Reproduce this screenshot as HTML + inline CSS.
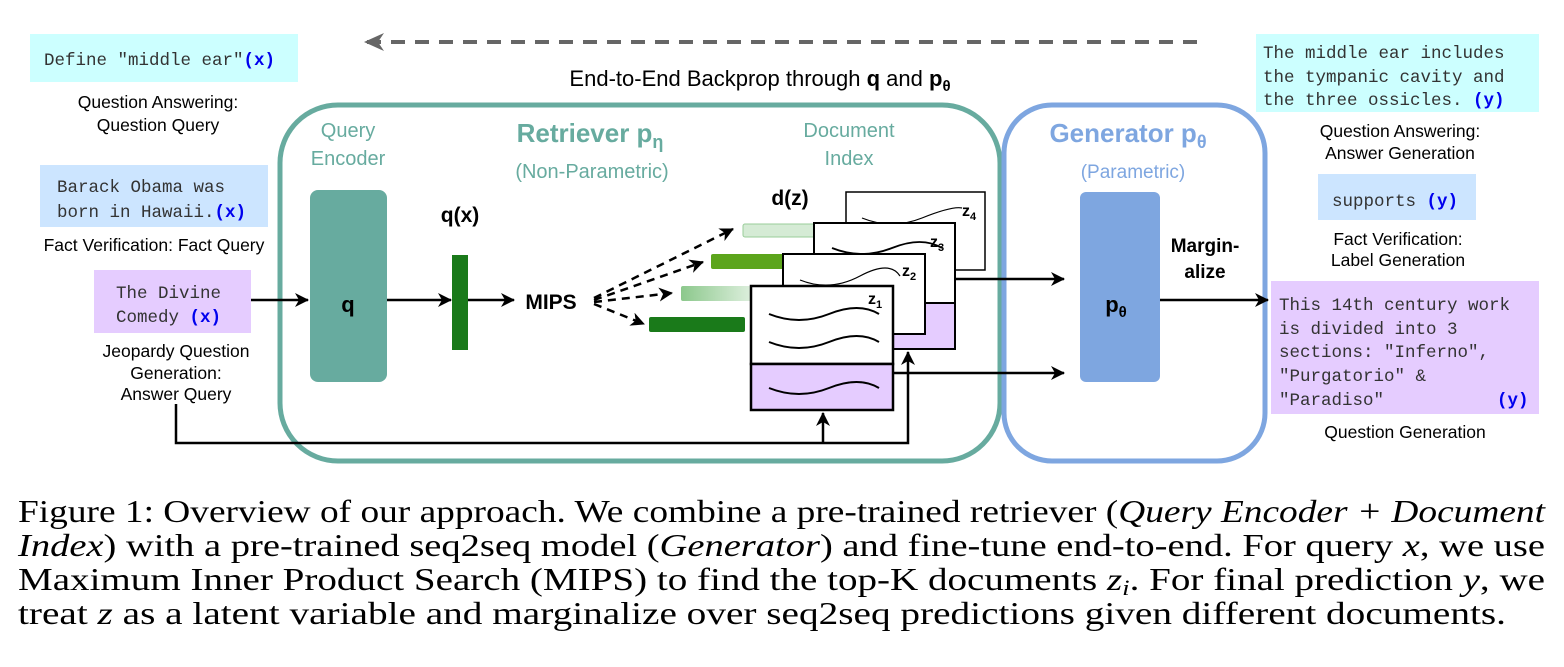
<!DOCTYPE html>
<html><head><meta charset="utf-8"><style>
html,body{margin:0;padding:0;background:#fff;}
svg{display:block}
.m{font-family:"Liberation Mono",monospace;font-size:17.5px;fill:#333}
.b{font-family:"Liberation Mono",monospace;font-size:17.5px;fill:#0000ee;font-weight:bold}
.s{font-family:"Liberation Sans",sans-serif;font-size:17.5px;fill:#000}
.t{font-family:"Liberation Sans",sans-serif;font-size:20px;fill:#67ab9f}
.cap{font-family:"Liberation Serif",serif;font-size:32px;fill:#000}
</style></head><body>
<svg width="1564" height="667" viewBox="0 0 1564 667" xmlns="http://www.w3.org/2000/svg">
<defs>
<marker id="a2" markerWidth="14" markerHeight="14" refX="13" refY="7" orient="auto" markerUnits="userSpaceOnUse"><path d="M0,0 L14,7 L0,14 L4,7z" fill="#000"/></marker>
<marker id="g" markerWidth="20" markerHeight="20" refX="18" refY="10" orient="auto" markerUnits="userSpaceOnUse"><path d="M0,1 L20,10 L0,19 L6,10z" fill="#666"/></marker>
<linearGradient id="lg" x1="0" x2="1"><stop offset="0" stop-color="#8cc88c"/><stop offset="1" stop-color="#e8f4e8"/></linearGradient>
</defs>
<line x1="1197" y1="42" x2="366" y2="42" stroke="#666" stroke-width="4" stroke-dasharray="14,10" marker-end="url(#g)"/>
<text x="760" y="86" text-anchor="middle" font-family="Liberation Sans,sans-serif" font-size="22">End-to-End Backprop through <tspan font-weight="bold">q</tspan> and <tspan font-weight="bold">p<tspan font-size="15" dy="5">θ</tspan></tspan></text>
<rect x="30" y="34" width="268" height="48" fill="#ccffff"/>
<text x="44" y="65" class="m">Define "middle ear"<tspan class="b">(x)</tspan></text>
<text x="158" y="108" text-anchor="middle" class="s">Question Answering:</text>
<text x="158" y="131" text-anchor="middle" class="s">Question Query</text>
<rect x="40" y="165" width="228" height="62" fill="#cce5ff"/>
<text x="57" y="192" class="m">Barack Obama was</text>
<text x="57" y="217" class="m">born in Hawaii.<tspan class="b">(x)</tspan></text>
<text x="154" y="251" text-anchor="middle" class="s">Fact Verification: Fact Query</text>
<rect x="94" y="270" width="157" height="63" fill="#e5ccff"/>
<text x="116" y="298" class="m">The Divine</text>
<text x="116" y="322" class="m">Comedy <tspan class="b">(x)</tspan></text>
<text x="176" y="357" text-anchor="middle" class="s">Jeopardy Question</text>
<text x="176" y="379" text-anchor="middle" class="s">Generation:</text>
<text x="176" y="400" text-anchor="middle" class="s">Answer Query</text>
<rect x="280" y="105" width="720" height="356" rx="58" fill="none" stroke="#67ab9f" stroke-width="5"/>
<rect x="1004" y="105" width="261" height="356" rx="48" fill="none" stroke="#7ea6e0" stroke-width="5"/>
<text x="348" y="137" text-anchor="middle" class="t">Query</text>
<text x="348" y="165" text-anchor="middle" class="t">Encoder</text>
<text x="590" y="142" text-anchor="middle" font-family="Liberation Sans,sans-serif" font-size="26" font-weight="bold" fill="#67ab9f">Retriever p<tspan font-size="18" dy="6">η</tspan></text>
<text x="592" y="178" text-anchor="middle" class="t" font-size="19">(Non-Parametric)</text>
<text x="849" y="137" text-anchor="middle" class="t">Document</text>
<text x="849" y="165" text-anchor="middle" class="t">Index</text>
<text x="1128" y="142" text-anchor="middle" font-family="Liberation Sans,sans-serif" font-size="26" font-weight="bold" fill="#7ea6e0">Generator p<tspan font-size="18" dy="6">θ</tspan></text>
<text x="1133" y="178" text-anchor="middle" font-family="Liberation Sans,sans-serif" font-size="19" fill="#7ea6e0">(Parametric)</text>
<rect x="310" y="190" width="77" height="192" rx="8" fill="#67ab9f"/>
<text x="348" y="312" text-anchor="middle" font-family="Liberation Sans,sans-serif" font-size="22" font-weight="bold">q</text>
<line x1="251" y1="300" x2="308" y2="300" stroke="#000" stroke-width="2.5" marker-end="url(#a2)"/>
<line x1="387" y1="300" x2="451" y2="300" stroke="#000" stroke-width="2.5" marker-end="url(#a2)"/>
<rect x="452" y="255" width="16" height="95" fill="#1a7a1a"/>
<text x="460" y="222" text-anchor="middle" font-family="Liberation Sans,sans-serif" font-size="21" font-weight="bold">q(x)</text>
<line x1="468" y1="300" x2="514" y2="300" stroke="#000" stroke-width="2.5" marker-end="url(#a2)"/>
<text x="551" y="309" text-anchor="middle" font-family="Liberation Sans,sans-serif" font-size="21" font-weight="bold">MIPS</text>
<g stroke="#000" stroke-width="2.5" stroke-dasharray="8,6" fill="none">
<line x1="594" y1="298" x2="733" y2="229" marker-end="url(#a2)"/>
<line x1="594" y1="300" x2="703" y2="262" marker-end="url(#a2)"/>
<line x1="594" y1="302" x2="672" y2="293" marker-end="url(#a2)"/>
<line x1="594" y1="304" x2="644" y2="324" marker-end="url(#a2)"/>
</g>
<rect x="743" y="224" width="80" height="13" rx="2" fill="#d5ebd5" stroke="#9c9" stroke-width="1"/>
<rect x="711" y="254" width="80" height="15" rx="2" fill="#5ca51c"/>
<rect x="681" y="286" width="80" height="15" rx="2" fill="url(#lg)"/>
<rect x="649" y="317" width="96" height="15" rx="2" fill="#1a7a1a"/>
<text x="790" y="205" text-anchor="middle" font-family="Liberation Sans,sans-serif" font-size="21" font-weight="bold">d(z)</text>
<g stroke="#000" fill="#fff">
<rect x="846" y="192" width="139" height="78" stroke-width="1.5"/>
<path d="M862,218 q30,12 60,0 t40,-10" fill="none" stroke-width="1.2"/>
<text x="962" y="216" font-family="Liberation Sans,sans-serif" font-size="16" font-weight="bold" stroke="none" fill="#000">z<tspan font-size="11" dy="4">4</tspan></text>
<rect x="814" y="223" width="141" height="80" stroke-width="2"/>
<rect x="814" y="303" width="141" height="46" fill="#e5ccff" stroke-width="2"/>
<path d="M832,248 q30,12 60,0 t50,0" fill="none" stroke-width="1.8"/>
<text x="930" y="247" font-family="Liberation Sans,sans-serif" font-size="16" font-weight="bold" stroke="none" fill="#000">z<tspan font-size="11" dy="4">3</tspan></text>
<rect x="783" y="254" width="142" height="80" stroke-width="2"/>
<path d="M800,280 q30,12 60,-4 t40,0" fill="none" stroke-width="1.2"/>
<text x="902" y="276" font-family="Liberation Sans,sans-serif" font-size="16" font-weight="bold" stroke="none" fill="#000">z<tspan font-size="11" dy="4">2</tspan></text>
<rect x="751" y="286" width="142" height="78" stroke-width="2.5"/>
<rect x="751" y="364" width="142" height="46" fill="#e5ccff" stroke-width="2.5"/>
<path d="M769,314 q30,12 60,0 t50,0" fill="none" stroke-width="2"/>
<path d="M769,342 q30,12 60,0 t50,0" fill="none" stroke-width="2"/>
<path d="M769,388 q30,12 60,0 t50,0" fill="none" stroke-width="2"/>
<text x="868" y="304" font-family="Liberation Sans,sans-serif" font-size="16" font-weight="bold" stroke="none" fill="#000">z<tspan font-size="11" dy="4">1</tspan></text>
</g>
<g stroke="#000" stroke-width="2.5" fill="none">
<line x1="955" y1="279" x2="1064" y2="279" marker-end="url(#a2)"/>
<line x1="893" y1="373" x2="1064" y2="373" marker-end="url(#a2)"/>
<polyline points="176,404 176,443 908,443 908,352" marker-end="url(#a2)"/>
<line x1="823" y1="443" x2="823" y2="413" marker-end="url(#a2)"/>
<line x1="1160" y1="300" x2="1268" y2="300" marker-end="url(#a2)"/>
</g>
<rect x="1080" y="192" width="80" height="190" rx="6" fill="#7ea6e0"/>
<text x="1116" y="312" text-anchor="middle" font-family="Liberation Sans,sans-serif" font-size="22" font-weight="bold">p<tspan font-size="15" dy="5">θ</tspan></text>
<text x="1205" y="252" text-anchor="middle" font-family="Liberation Sans,sans-serif" font-size="19" font-weight="bold">Margin-</text>
<text x="1205" y="278" text-anchor="middle" font-family="Liberation Sans,sans-serif" font-size="19" font-weight="bold">alize</text>
<rect x="1256" y="34" width="283" height="78" fill="#ccffff"/>
<text x="1263" y="58" class="m">The middle ear includes</text>
<text x="1263" y="82" class="m">the tympanic cavity and</text>
<text x="1263" y="105" class="m">the three ossicles.  <tspan class="b">(y)</tspan></text>
<text x="1400" y="137" text-anchor="middle" class="s">Question Answering:</text>
<text x="1400" y="159" text-anchor="middle" class="s">Answer Generation</text>
<rect x="1318" y="174" width="158" height="46" fill="#cce5ff"/>
<text x="1332" y="206" class="m">supports <tspan class="b">(y)</tspan></text>
<text x="1398" y="245" text-anchor="middle" class="s">Fact Verification:</text>
<text x="1398" y="266" text-anchor="middle" class="s">Label Generation</text>
<rect x="1271" y="281" width="268" height="133" fill="#e5ccff"/>
<text x="1279" y="310" class="m">This 14th century work</text>
<text x="1279" y="334" class="m">is divided into 3</text>
<text x="1279" y="357" class="m">sections: "Inferno",</text>
<text x="1279" y="381" class="m">"Purgatorio" &amp;</text>
<text x="1279" y="405" class="m">"Paradiso"</text>
<text x="1497" y="405" class="b">(y)</text>
<text x="1405" y="438" text-anchor="middle" class="s">Question Generation</text>
<text x="18" y="522" class="cap" textLength="1527" lengthAdjust="spacingAndGlyphs">Figure 1: Overview of our approach. We combine a pre-trained retriever (<tspan font-style="italic">Query Encoder + Document</tspan></text>
<text x="18" y="556" class="cap" textLength="1527" lengthAdjust="spacingAndGlyphs"><tspan font-style="italic">Index</tspan>) with a pre-trained seq2seq model (<tspan font-style="italic">Generator</tspan>) and fine-tune end-to-end. For query <tspan font-style="italic">x</tspan>, we use</text>
<text x="18" y="590" class="cap" textLength="1527" lengthAdjust="spacingAndGlyphs">Maximum Inner Product Search (MIPS) to find the top-K documents <tspan font-style="italic">z<tspan font-size="22" dy="5">i</tspan></tspan><tspan dy="-5">. For final prediction </tspan><tspan font-style="italic">y</tspan>, we</text>
<text x="18" y="624" class="cap" textLength="1488" lengthAdjust="spacingAndGlyphs">treat <tspan font-style="italic">z</tspan> as a latent variable and marginalize over seq2seq predictions given different documents.</text>
</svg>
</body></html>
